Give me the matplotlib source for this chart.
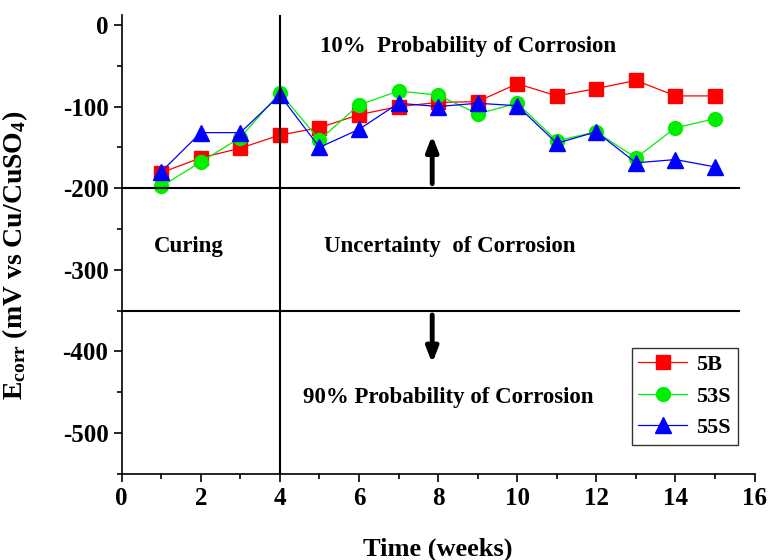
import numpy as np
import matplotlib.pyplot as plt
from matplotlib.ticker import MultipleLocator

plt.rcParams['font.family'] = 'Liberation Serif'
plt.rcParams['font.weight'] = 'bold'
plt.rcParams['axes.unicode_minus'] = False
plt.rcParams['mathtext.fontset'] = 'custom'
plt.rcParams['mathtext.rm'] = 'Liberation Serif:bold'
plt.rcParams['mathtext.it'] = 'Liberation Serif:bold'

weeks = np.arange(1, 16)
e_5b = [-181, -163, -151, -135, -126, -110, -100, -95, -94, -72, -87, -78, -68, -87, -87]
e_53s = [-198, -168, -138, -83, -141, -98, -81, -86, -109, -96, -142, -131, -163, -126, -115]
e_55s = [-180, -132, -132, -86, -150, -128, -96, -100, -96, -99, -145, -131, -169, -165, -174]

fig = plt.figure(figsize=(7.7, 5.6), dpi=100)
ax = fig.add_axes([0.158, 0.154, 0.822, 0.819])

ax.plot(weeks, e_5b, color='red', lw=0.9, marker='s', ms=10, mec='red', label='5B')
ax.plot(weeks, e_53s, color='#00ee00', lw=0.9, marker='o', ms=10, mec='#00ee00', label='53S')
ax.plot(weeks, e_55s, color='blue', lw=0.9, marker='^', ms=11, mec='blue', label='55S')

# threshold lines
ax.plot([0, 15.6], [-200, -200], color='black', lw=1.5)
ax.plot([0, 15.6], [-350, -350], color='black', lw=1.5)
ax.axvline(4, color='black', lw=1.5)

ax.annotate('', xy=(7.85, -132), xytext=(7.85, -198),
            arrowprops=dict(arrowstyle='-|>,head_length=0.9,head_width=0.35', color='black', lw=3.5))
ax.annotate('', xy=(7.85, -418), xytext=(7.85, -352),
            arrowprops=dict(arrowstyle='-|>,head_length=0.9,head_width=0.35', color='black', lw=3.5))

ax.text(8.75, -26, '10%  Probability of Corrosion', ha='center', va='center', fontsize=16.5)
ax.text(1.7, -272, 'Curing', ha='center', va='center', fontsize=16.5)
ax.text(8.3, -272, 'Uncertainty  of Corrosion', ha='center', va='center', fontsize=16.5)
ax.text(8.25, -457, '90% Probability of Corrosion', ha='center', va='center', fontsize=16.5)

ax.set_xlim(0, 16)
ax.set_ylim(-550, 12)
ax.set_yticks([0, -100, -200, -300, -400, -500])
ax.xaxis.set_major_locator(MultipleLocator(2))
ax.xaxis.set_minor_locator(MultipleLocator(1))
ax.yaxis.set_minor_locator(MultipleLocator(50))
ax.tick_params(which='major', length=6, width=1.2, labelsize=18, direction='out')
ax.tick_params(which='minor', length=3.5, width=1.2, direction='out')
ax.spines['top'].set_visible(False)
ax.spines['right'].set_visible(False)
ax.spines['left'].set_linewidth(1.2)
ax.spines['bottom'].set_linewidth(1.2)

ax.set_xlabel('Time (weeks)', fontsize=19, fontweight='bold', labelpad=20)
ax.set_ylabel(r'E$_{\rm corr}$ (mV vs Cu/CuSO$_4$)', fontsize=20, fontweight='bold')
ax.yaxis.set_label_coords(-0.145, 0.477)

leg = ax.legend(loc='lower right', bbox_to_anchor=(0.973, 0.063), fontsize=16, frameon=True,
                fancybox=False, edgecolor='black', handlelength=2.2, borderpad=0.3,
                labelspacing=0.5, handletextpad=0.4, borderaxespad=0)
leg.get_frame().set_linewidth(1.0)

fig.savefig('out.png', dpi=100)
